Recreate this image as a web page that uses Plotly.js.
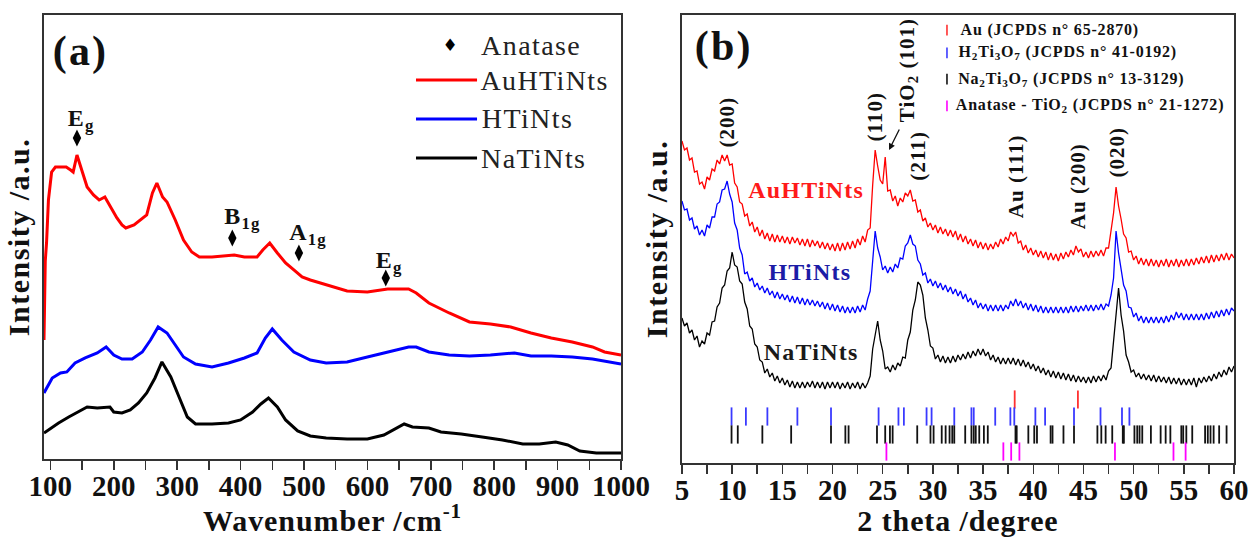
<!DOCTYPE html>
<html>
<head>
<meta charset="utf-8">
<script src="https://cdn.plot.ly/plotly-3.0.1.min.js"></script>
<style>
html,body{margin:0;padding:0;background:#fff;}
#chart{width:1251px;height:537px;}
#chart .ytitle, #chart .y2title, #chart .annotation-text{letter-spacing:0.05em;}
#chart .xtitle, #chart .x2title{letter-spacing:0.03em;}
</style>
</head>
<body>
<div id="chart"></div>
<script>
// ---------- Panel (a): Raman spectra (wavenumber cm-1, intensity a.u.) ----------
const ramanAuX = [90,91,92,94,97,102,108,115,125,132,136,142,148,158,168,177,186,197,205,213,219,232,245,252,261,268,277,284,297,310,323,335,355,374,390,406,426,435,446,458,471,484,497,510,535,568,600,632,665,677,697,729,761,794,826,858,890,923,955,974,1000];
const ramanAuY = [121,170,200,218,261,289,294,294,294,291,289,306,293,274,266,261,264,251,243,236,233,236,242,246,268,278,264,259,241,221,209,204,204,205,206,204,204,211,218,208,198,191,184,181,176,170,169,172,172,168,158,148,139,137,134,128,123,119,114,109,106];
const ramanHX = [90,103,116,126,139,155,174,188,200,213,229,245,258,270,284,297,310,329,355,381,406,426,439,450,465,484,510,535,568,600,632,665,677,697,729,761,794,832,858,890,923,955,1000];
const ramanHY = [68,83,88,89,98,103,108,114,106,102,102,109,121,134,128,116,104,97,94,98,103,108,123,132,121,109,101,98,99,104,109,114,114,109,106,105,106,108,105,105,104,102,97];
const ramanNaX = [90,113,129,148,158,174,194,200,213,226,239,252,265,276,290,303,316,329,355,381,400,419,432,444,458,471,490,510,535,568,600,626,645,658,671,697,716,748,781,813,845,871,897,916,935,961,1000];
const ramanNaY = [28,38,44,51,54,53,54,49,48,51,58,68,83,99,84,64,44,37,37,38,41,49,57,63,54,41,30,25,23,22,22,26,33,37,34,33,29,27,24,21,17,17,19,16,10,8,8];
const anataseRamanX = [142,387,492,629];
const anataseMarkY = [323,223,208,183];
const anataseLabels = ['E<sub>g</sub>','B<sub>1g</sub>','A<sub>1g</sub>','E<sub>g</sub>'];

// ---------- Panel (b): XRD patterns (2 theta degree, intensity a.u.) ----------
const twoTheta = [
5,5.25,5.5,5.75,6,6.25,6.5,6.75,7,7.25,7.5,7.75,8,8.25,8.5,8.75,9,9.25,9.5,9.75,
10,10.25,10.5,10.75,11,11.25,11.5,11.75,12,12.25,12.5,12.75,13,13.25,13.5,13.75,14,14.25,14.5,14.75,
15,15.25,15.5,15.75,16,16.25,16.5,16.75,17,17.25,17.5,17.75,18,18.25,18.5,18.75,19,19.25,19.5,19.75,
20,20.25,20.5,20.75,21,21.25,21.5,21.75,22,22.25,22.5,22.75,23,23.25,23.5,23.75,24,24.25,24.5,24.75,
25,25.25,25.5,25.75,26,26.25,26.5,26.75,27,27.25,27.5,27.75,28,28.25,28.5,28.75,29,29.25,29.5,29.75,
30,30.25,30.5,30.75,31,31.25,31.5,31.75,32,32.25,32.5,32.75,33,33.25,33.5,33.75,34,34.25,34.5,34.75,
35,35.25,35.5,35.75,36,36.25,36.5,36.75,37,37.25,37.5,37.75,38,38.25,38.5,38.75,39,39.25,39.5,39.75,
40,40.25,40.5,40.75,41,41.25,41.5,41.75,42,42.25,42.5,42.75,43,43.25,43.5,43.75,44,44.25,44.5,44.75,
45,45.25,45.5,45.75,46,46.25,46.5,46.75,47,47.25,47.5,47.75,48,48.25,48.5,48.75,49,49.25,49.5,49.75,
50,50.25,50.5,50.75,51,51.25,51.5,51.75,52,52.25,52.5,52.75,53,53.25,53.5,53.75,54,54.25,54.5,54.75,
55,55.25,55.5,55.75,56,56.25,56.5,56.75,57,57.25,57.5,57.75,58,58.25,58.5,58.75,59,59.25,59.5,59.75,
60];
const xrdAu = [
320,311,313,301,303,289,290,277,279,272,284,281,292,290,301,297,306,300,306,296,
297,278,274,259,257,245,247,235,239,229,234,225,231,222,228,220,227,219,226,219,
225,218,224,217,224,218,223,216,222,215,222,214,221,215,220,213,219,212,218,211,
217,210,218,210,218,211,219,212,220,213,222,216,225,219,231,233,276,311,295,281,
277,304,270,271,260,265,255,263,259,268,265,271,260,261,249,251,240,243,234,238,
231,236,228,234,227,232,225,231,224,230,221,227,219,225,217,222,215,221,213,219,
212,218,211,217,212,219,214,222,217,224,220,229,225,229,218,220,211,216,208,213,
206,211,204,210,203,209,201,208,201,207,200,208,202,209,204,211,206,215,209,212,
204,209,203,210,204,210,205,211,205,213,213,231,248,274,255,242,227,223,209,210,
201,205,197,203,196,202,195,202,195,201,194,201,195,202,194,201,195,202,194,201,
195,202,195,202,196,203,197,204,198,205,198,206,199,206,200,207,201,208,201,207,
203];
const xrdH = [
260,251,252,241,243,232,235,226,231,225,236,233,244,244,257,259,271,272,280,267,
259,238,231,213,206,187,189,180,183,174,178,171,175,168,173,166,170,163,169,162,
167,161,166,159,165,158,164,157,163,156,162,156,161,155,160,154,159,152,158,151,
157,150,156,149,155,148,154,148,154,148,155,149,156,151,162,170,200,230,213,204,
191,195,188,194,189,197,193,203,202,215,218,226,217,215,201,197,186,188,178,182,
175,180,173,178,171,176,169,174,167,172,165,170,162,167,159,163,156,161,153,158,
152,157,150,156,150,156,150,156,150,156,152,160,155,162,155,160,153,158,151,157,
150,156,149,155,148,154,148,154,148,154,148,154,148,154,148,155,149,155,149,155,
150,156,150,156,150,156,151,157,151,157,155,166,183,230,208,194,176,170,154,153,
144,148,140,145,138,144,138,144,138,144,138,144,138,145,139,146,141,149,143,148,
141,147,141,147,141,147,141,147,141,148,142,149,143,150,144,151,145,152,146,153,
150];
const xrdNa = [
143,135,138,128,131,121,125,114,120,117,128,126,139,140,154,158,173,176,190,193,
209,196,194,180,177,159,152,135,132,117,114,101,99,88,92,84,88,80,85,78,
83,76,81,74,80,73,79,73,79,73,79,74,80,73,79,73,79,72,79,73,
79,73,79,72,78,73,79,72,78,73,79,72,78,73,78,85,112,128,140,121,
110,92,94,89,96,91,98,95,104,103,121,129,151,161,179,176,166,143,131,115,
113,102,106,99,105,98,104,98,105,99,106,101,107,102,109,103,110,105,112,106,
112,105,109,101,106,99,104,97,103,97,103,97,103,96,102,95,101,94,99,92,
97,90,95,88,93,86,91,84,90,83,89,82,88,81,87,80,86,79,85,79,
84,78,84,78,85,79,85,80,86,81,90,93,120,150,173,146,130,106,99,89,
91,84,88,82,87,81,86,80,86,79,85,79,84,78,84,77,83,77,83,76,
82,76,82,76,83,74,83,78,84,79,85,80,87,82,89,84,91,86,94,89,
95];

// Reference pattern lines (2 theta)
const refAu = [38.15,44.45];
const refH2Ti3O7 = [9.94,11.37,13.51,16.50,19.85,24.59,26.57,27.11,29.37,29.87,32.13,33.84,34.07,36.21,37.72,38.11,40.21,41.18,44.06,46.70,48.84,49.58];
const refNa2Ti3O7 = [9.94,10.56,13.01,15.88,19.85,21.28,21.60,24.43,25.25,25.72,25.99,28.44,29.76,30.07,30.88,31.27,31.66,31.93,32.13,33.22,33.84,34.07,34.27,34.62,35.08,35.47,38.23,38.35,39.51,40.10,40.37,41.73,41.92,43.01,44.06,46.39,46.78,47.21,47.87,48.92,49.03,50.08,50.36,50.59,50.86,51.72,52.69,53.19,53.66,54.75,54.94,55.25,55.84,57.12,57.39,57.66,57.97,58.52,59.26];
const refAnatase = [25.37,37.02,37.80,38.62,48.14,53.97,55.18];

const seriesNames = ['AuHTiNts','HTiNts','NaTiNts'];
const refNames = ['Au (JCPDS n° 65-2870)','H<sub>2</sub>Ti<sub>3</sub>O<sub>7</sub> (JCPDS n° 41-0192)','Na<sub>2</sub>Ti<sub>3</sub>O<sub>7</sub> (JCPDS n° 13-3129)','Anatase - TiO<sub>2</sub> (JCPDS n° 21-1272)'];

// ---------- drawing ----------
const F = '"Liberation Serif","Times New Roman",Times,serif';
const RED = '#ff0000', BLUE = '#0000ff', BLACK = '#000000', MAG = '#ff00ff';

function line(x, y, color, w, xa, ya, name){
  return {type:'scatter', mode:'lines', x:x, y:y, xaxis:xa, yaxis:ya, name:name,
          line:{color:color, width:w}, showlegend:false, hoverinfo:'skip'};
}
function sticks(x, level, color, name){
  return {type:'scatter', mode:'markers', x:x, y:x.map(()=>level), xaxis:'x2', yaxis:'y2', name:name,
          marker:{symbol:'line-ns', size:13, line:{color:color, width:1.8}}, showlegend:false, hoverinfo:'skip'};
}

const traces = [
  line(ramanNaX, ramanNaY, BLACK, 3, 'x','y', seriesNames[2]),
  line(ramanHX, ramanHY, BLUE, 3, 'x','y', seriesNames[1]),
  line(ramanAuX, ramanAuY, RED, 3, 'x','y', seriesNames[0]),
  {type:'scatter', mode:'markers', x:anataseRamanX, y:anataseMarkY, xaxis:'x', yaxis:'y', name:'Anatase',
   marker:{symbol:'diamond-tall', size:12, color:'#000'}, showlegend:false, hoverinfo:'skip'},
  line(twoTheta, xrdNa, BLACK, 1.3, 'x2','y2', seriesNames[2]),
  line(twoTheta, xrdH, BLUE, 1.3, 'x2','y2', seriesNames[1]),
  line(twoTheta, xrdAu, RED, 1.3, 'x2','y2', seriesNames[0]),
  sticks(refAu, 61.5, '#ff3030', 'Au'),
  sticks(refH2Ti3O7, 44.5, '#3a3aff', 'H2Ti3O7'),
  sticks(refNa2Ti3O7, 26.5, '#111111', 'Na2Ti3O7'),
  sticks(refAnatase, 9.5, MAG, 'Anatase')
];

const axCommon = {
  showline:true, mirror:true, linecolor:'#333', linewidth:1.6,
  showgrid:false, zeroline:false, ticks:'outside', ticklen:9, tickwidth:1.5, tickcolor:'#333',
  tickfont:{family:F, size:29, color:'#111', weight:'bold'}, ticklabelstandoff:-8
};
const yCommon = {
  showline:true, mirror:true, linecolor:'#333', linewidth:1.6,
  showgrid:false, zeroline:false, ticks:'', showticklabels:false
};
const titleFont = {family:F, size:30, color:'#111', weight:'bold'};

const ann = [];
// panel letters
ann.push({xref:'paper', yref:'paper', x:0.0303, y:0.9196, text:'(a)', showarrow:false,
  font:{family:F, size:42, color:'#111', weight:'bold'}, xanchor:'center', yanchor:'middle'});
ann.push({xref:'paper', yref:'paper', x:0.5706, y:0.9286, text:'(b)', showarrow:false,
  font:{family:F, size:42, color:'#111', weight:'bold'}, xanchor:'center', yanchor:'middle'});
// anatase labels (panel a)
const anLabPos = [[126,341],[374,243],[476,227],[612,199]];
anataseLabels.forEach((t,i)=>ann.push({xref:'x', yref:'y', x:anLabPos[i][0], y:anLabPos[i][1], text:t, showarrow:false,
  xanchor:'left', yanchor:'middle', font:{family:F, size:24, color:'#111', weight:'bold'}}));
// legend panel a
const legA = [
  {t:'Anatase', y:0.933},
  {t:seriesNames[0], y:0.8549, c:RED},
  {t:seriesNames[1], y:0.7679, c:BLUE},
  {t:seriesNames[2], y:0.6808, c:BLACK}
];
const shapes = [];
legA.forEach(d=>{
  ann.push({xref:'paper', yref:'paper', x:0.3697, y:d.y, text:d.t, showarrow:false, xanchor:'left', yanchor:'middle',
    font:{family:F, size:28, color:'#222'}});
  if(d.c) shapes.push({type:'line', xref:'paper', yref:'paper', x0:0.3126, x1:0.3639, y0:d.y, y1:d.y, line:{color:d.c, width:3}});
});
ann.push({xref:'paper', yref:'paper', x:0.3412, y:0.933, text:'♦', showarrow:false, xanchor:'center', yanchor:'middle',
  font:{family:'DejaVu Sans', size:17, color:'#000'}});
// legend panel b
const legBY = [0.9665,0.9152,0.8571,0.7969];
const legBC = ['#ff3030','#3a3aff','#111111',MAG];
refNames.forEach((t,i)=>{
  ann.push({xref:'paper', yref:'paper', x:0.7756, y:legBY[i], text:t, showarrow:false, xanchor:'left', yanchor:'middle',
    font:{family:F, size:16, color:'#111', weight:'bold'}});
  shapes.push({type:'line', xref:'paper', yref:'paper', x0:0.7588, x1:0.7588, y0:legBY[i]-0.012, y1:legBY[i]+0.012,
    line:{color:legBC[i], width:1.6}});
});
// reflection labels (panel b), rotated
const refl = [
  ['(200)',9.48,339],['(110)',24.23,344],['TiO<sub>2</sub> (101)',27.52,391],['(211)',28.52,305],
  ['Au (111)',38.28,285],['Au (200)',44.46,275],['(020)',48.34,309]
];
refl.forEach(r=>ann.push({xref:'x2', yref:'y2', x:r[1], y:r[2], text:r[0], showarrow:false, textangle:-90,
  xanchor:'center', yanchor:'middle', font:{family:F, size:21, color:'#111', weight:'bold'}}));
// arrow to TiO2 (101)
ann.push({xref:'x2', yref:'y2', x:25.63, y:311, ax:11, ay:-22, text:'', showarrow:true, arrowhead:2, arrowsize:1,
  arrowwidth:1.3, arrowcolor:'#111'});
// sample labels (panel b)
const sampLab = [[seriesNames[0],17.36,271,'#ff1a1a'],[seriesNames[1],17.75,189,'#1c1ca6'],[seriesNames[2],17.85,109,'#1a1a1a']];
sampLab.forEach(s=>ann.push({xref:'x2', yref:'y2', x:s[1], y:s[2], text:s[0], showarrow:false, xanchor:'center', yanchor:'middle',
  font:{family:F, size:24, color:s[3], weight:'bold'}}));

const layout = {
  width:1251, height:537, margin:{l:44, r:17, t:15, b:74},
  paper_bgcolor:'#fff', plot_bgcolor:'#fff', showlegend:false,
  xaxis: Object.assign({}, axCommon, {domain:[0,0.4849], range:[90,1000], tick0:100, dtick:100,
    minor:{dtick:50, tick0:50, ticks:'outside', ticklen:9, tickwidth:1.5, tickcolor:'#333'},
    title:{text:'Wavenumber /cm<sup>-1</sup>', font:titleFont, standoff:16}, anchor:'y'}),
  yaxis: Object.assign({}, yCommon, {domain:[0.009,1], range:[2,446], anchor:'x',
    title:{text:'Intensity /a.u.', font:titleFont, standoff:4}}),
  xaxis2: Object.assign({}, axCommon, {domain:[0.5361,1], range:[5,60], tick0:5, dtick:5,
    minor:{dtick:2.5, tick0:5, ticks:'outside', ticklen:9, tickwidth:1.5, tickcolor:'#333'},
    title:{text:'2 theta /degree', font:titleFont, standoff:16}, anchor:'y2'}),
  yaxis2: Object.assign({}, yCommon, {domain:[0,1], range:[-2,446], anchor:'x2',
    title:{text:'Intensity /a.u.', font:titleFont, standoff:4}}),
  annotations: ann,
  shapes: shapes
};

Plotly.newPlot('chart', traces, layout, {displayModeBar:false, staticPlot:true});
</script>
</body>
</html>
